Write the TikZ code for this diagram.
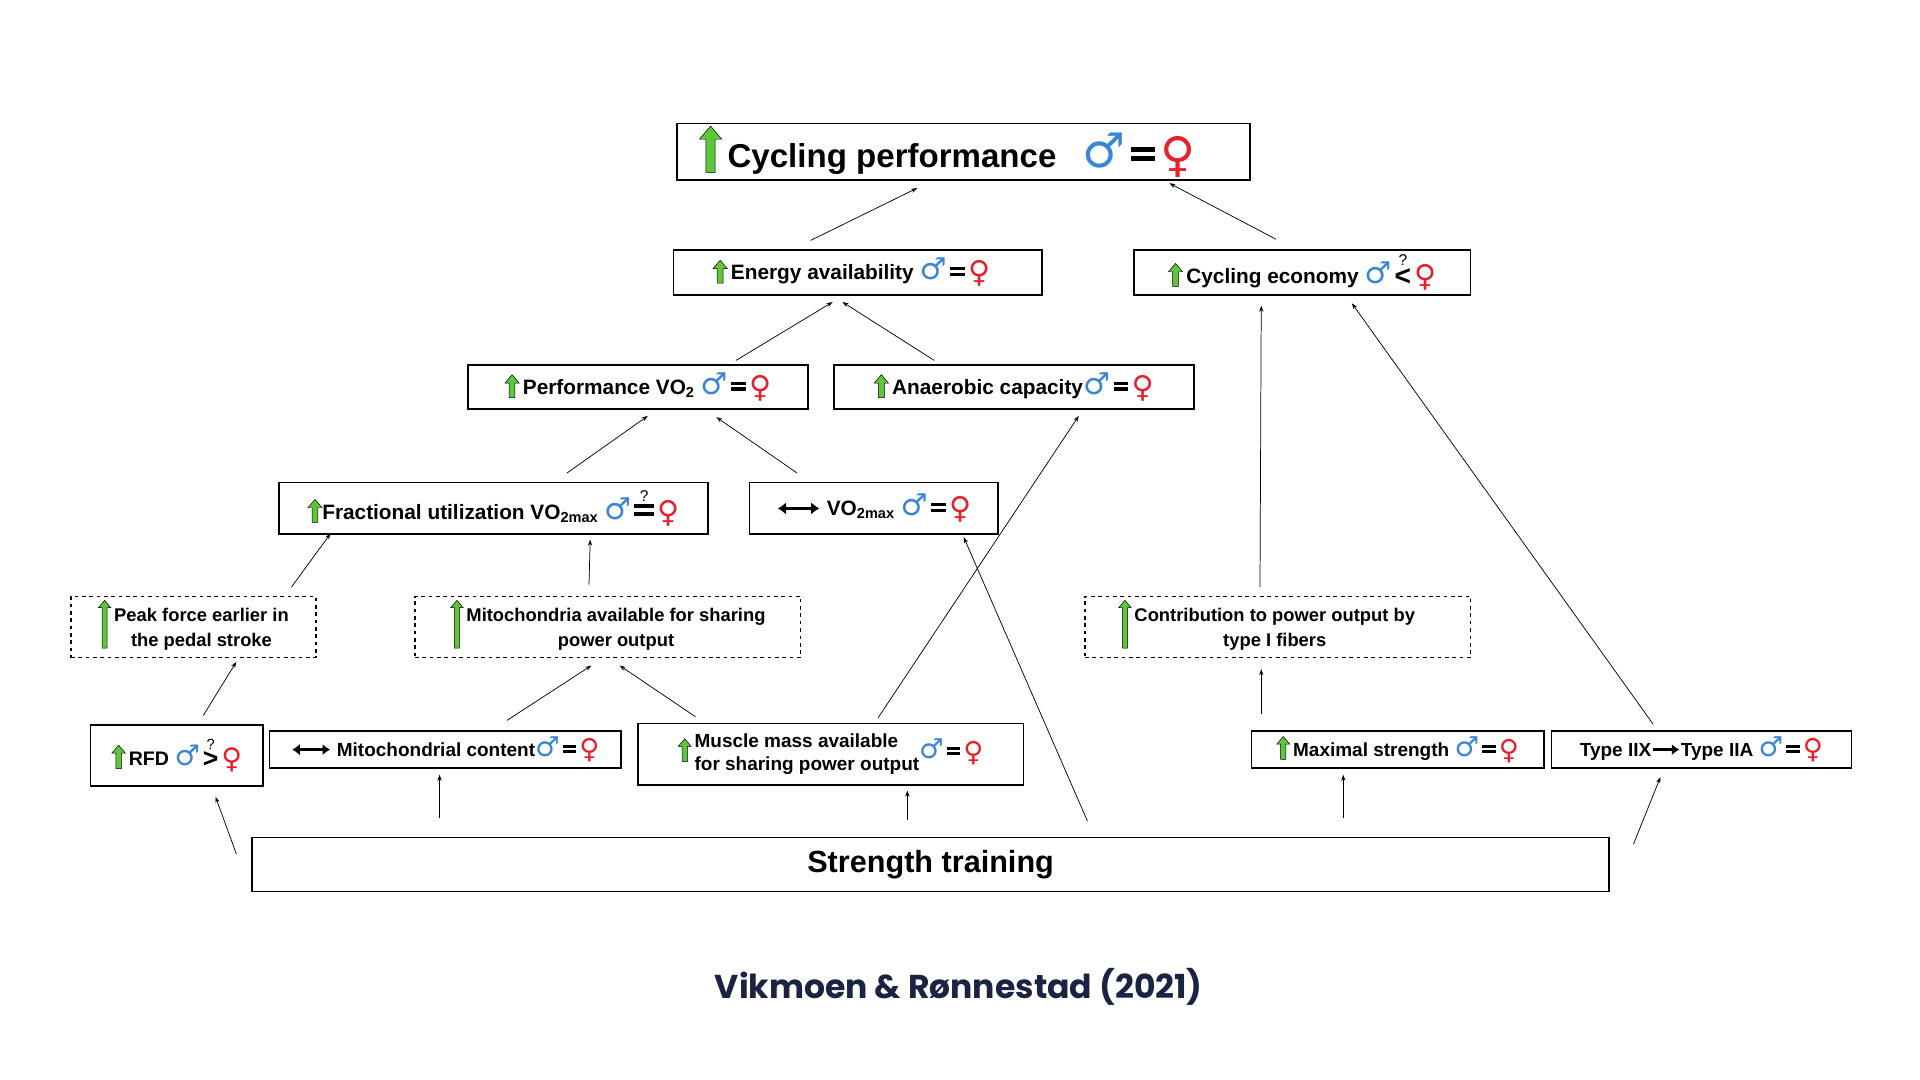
\documentclass[tikz,border=0pt]{standalone}
\usepackage{amsmath}
\usepackage{graphicx}
\usepackage{fontspec}
\setmainfont{Liberation Sans}
\newfontfamily\symf{DejaVu Sans}
\newfontfamily\titlef{Poppins}
\usetikzlibrary{arrows.meta,calc}
\definecolor{mblue}{HTML}{3A86D6}
\definecolor{fred}{HTML}{E8202A}
\definecolor{upgreen}{HTML}{5DC63A}
\definecolor{navy}{HTML}{1B2342}
% little glyphs used inside the boxes
\newcommand\up[1]{\tikz[baseline=0.15em,x=1em,y=1em]\filldraw[fill=upgreen,draw=black,line width=0.4pt]
  (-0.14,0) -- (0.14,0) -- (0.14,#1-0.4) -- (0.34,#1-0.4) -- (0,#1) -- (-0.34,#1-0.4) -- (-0.14,#1-0.4) -- cycle;}
\newcommand\both{\tikz[baseline=0pt,x=1em,y=1em]\draw[line width=0.16em,{Latex[length=0.4em,width=0.6em]}-{Latex[length=0.4em,width=0.6em]}] (0,0.35) -- (2,0.35);}
\newcommand\into{\tikz[baseline=0pt,x=1em,y=1em]\draw[line width=0.16em,-{Latex[length=0.4em,width=0.6em]}] (0,0.35) -- (1.4,0.35);}
\newcommand\he{{\symf\color{mblue}\scalebox{1.45}{♂}}}
\newcommand\she{{\symf\color{fred}\raisebox{-0.25ex}{\scalebox{1.45}{♀}}}}
\newcommand\eqbar{\tikz[baseline=0pt,x=1em,y=1em]{\fill (0,0.18) rectangle (0.7,0.34); \fill (0,0.46) rectangle (0.7,0.62);}}
\newcommand\sexrel[1]{\he\,#1\,\she}
\newcommand\qrel[1]{\he\hspace{0.15em}\raisebox{-0.2ex}{\shortstack{\scalebox{0.75}{\normalfont ?}\\[-0.1ex]\scalebox{1.35}{#1}}}\hspace{0.15em}\she}
\begin{document}
\begin{tikzpicture}[x=1pt,y=-1pt,
    box/.style={draw=black,line width=1.3pt,fill=white,inner sep=0pt,align=center,
      font=\fontsize{17}{19}\selectfont\bfseries},
    soft/.style={box,dashed,line width=1pt,font=\fontsize{15}{20}\selectfont\bfseries},
    conn/.style={draw=black,line width=0.6pt,-{Stealth[length=5pt,width=3.5pt]}},
  ]
  \useasboundingbox[fill=white] (0,0) rectangle (1568,882);
  % upper levels
  \node[box,minimum width=468,minimum height=46,font=\fontsize{27}{30}\selectfont\bfseries] (perf) at (787,124)
    {\up{1.4}\,Cycling performance\hspace{0.8em}\sexrel{\eqbar}\hspace{1em}};
  \node[box,minimum width=301,minimum height=37] (energy) at (700.5,222.5) {\up{1.1}\,Energy availability \sexrel{\eqbar}\hspace{0.6em}};
  \node[box,minimum width=275,minimum height=37] (economy) at (1063.5,222.5) {\up{1.1}\,Cycling economy \qrel{<}};
  \node[box,minimum width=278,minimum height=36] (perfvo) at (521,316) {\up{1.1}\,Performance VO\textsubscript{2} \sexrel{\eqbar}};
  \node[box,minimum width=294,minimum height=36] (anaer) at (828,316) {\up{1.1}\,Anaerobic capacity\sexrel{\eqbar}};
  \node[box,minimum width=350,minimum height=42] (frac) at (403,415) {\up{1.1}Fractional utilization VO\textsubscript{2max} \qrel{\eqbar}};
  \node[box,minimum width=203,minimum height=42] (vomax) at (713.5,415) {\both\ VO\textsubscript{2max} \sexrel{\eqbar}};
  % dashed mechanisms
  \node[soft,minimum width=200,minimum height=50] (peak) at (158,512)
    {\raisebox{-1.2ex}{\up{2.6}}\,\begin{tabular}{@{}c@{}}Peak force earlier in\\the pedal stroke\end{tabular}};
  \node[soft,minimum width=315,minimum height=50] (mito) at (496.5,512)
    {\raisebox{-1.2ex}{\up{2.6}}\,\begin{tabular}{@{}c@{}}Mitochondria available for sharing\\power output\end{tabular}};
  \node[soft,minimum width=315,minimum height=50] (contrib) at (1043.5,512)
    {\raisebox{-1.2ex}{\up{2.6}}\,\begin{tabular}{@{}c@{}}Contribution to power output by\\type I fibers\end{tabular}\hspace{1.2em}};
  % bottom row
  \node[box,minimum width=141,minimum height=50,font=\fontsize{16}{19}\selectfont\bfseries] (rfd) at (144.5,617) {\up{1.2}\,RFD \qrel{>}};
  \node[box,minimum width=287,minimum height=30,font=\fontsize{15.5}{19}\selectfont\bfseries] (mitocont) at (363.5,612) {\both\ Mitochondrial content\sexrel{\eqbar}};
  \node[box,minimum width=315,minimum height=50,font=\fontsize{15.5}{19}\selectfont\bfseries] (muscle) at (678.5,616)
    {\up{1.2}\,\begin{tabular}{@{}l@{}}Muscle mass available\\for sharing power output\end{tabular}\sexrel{\eqbar}};
  \node[box,minimum width=239,minimum height=30,font=\fontsize{15.5}{19}\selectfont\bfseries] (maxstr) at (1141.5,612) {\up{1.2}\,Maximal strength \sexrel{\eqbar}};
  \node[box,minimum width=245,minimum height=30,font=\fontsize{15.5}{19}\selectfont\bfseries] (fiber) at (1389.5,612) {Type IIX\into Type IIA \sexrel{\eqbar}};
  \node[box,minimum width=1108,minimum height=44,font=\fontsize{25}{28}\selectfont\bfseries] (train) at (760,706) {Strength training};
  \node[font=\titlef\fontsize{27}{32}\selectfont\bfseries,text=navy] (source) at (783,806) {Vikmoen \& Rønnestad (2021)};
  % connectors
  \draw[conn] ([shift={(-38.5,-7)}]energy.north) -- ([shift={(-38,6)}]perf.south);
  \draw[conn] ([shift={(-21.5,-8)}]economy.north) -- ([shift={(168,2)}]perf.south);
  \draw[conn] ([shift={(80,-3)}]perfvo.north) -- ([shift={(-20.5,5)}]energy.south);
  \draw[conn] ([shift={(-65,-3)}]anaer.north) -- ([shift={(-12.5,5)}]energy.south);
  \draw[conn] ([shift={(60,-7)}]frac.north) -- ([shift={(8,5)}]perfvo.south);
  \draw[conn] ([shift={(-62.5,-7)}]vomax.north) -- ([shift={(64,6)}]perfvo.south);
  \draw[conn] ([shift={(80,-7)}]peak.north) -- ([shift={(-133,-1)}]frac.south);
  \draw[conn] ([shift={(-15.5,-9)}]mito.north) -- ([shift={(79,4)}]frac.south);
  \draw[conn] ([shift={(38.5,-4)}]muscle.north) -- ([shift={(53,5)}]anaer.south);
  \draw[conn] ([shift={(128,-13)}]train.north) -- ([shift={(73.5,2)}]vomax.south);
  \draw[conn] ([shift={(-14.5,-7)}]contrib.north) -- ([shift={(-33.5,8)}]economy.south);
  \draw[conn] ([shift={(-39.5,-5)}]fiber.north) -- ([shift={(40.5,6)}]economy.south);
  \draw[conn] ([shift={(21.5,-7)}]rfd.north) -- ([shift={(35,3)}]peak.south);
  \draw[conn] ([shift={(50.5,-8)}]mitocont.north) -- ([shift={(-13.5,6)}]mito.south);
  \draw[conn] ([shift={(-110.5,-5)}]muscle.north) -- ([shift={(9.5,6)}]mito.south);
  \draw[conn] ([shift={(-111.5,-13)}]maxstr.north) -- ([shift={(-13.5,9)}]contrib.south);
  \draw[conn] ([shift={(-567,14)}]train.north) -- ([shift={(31.5,8)}]rfd.south);
  \draw[conn] ([shift={(-401,-15)}]train.north) -- ([shift={(-4.5,5)}]mitocont.south);
  \draw[conn] ([shift={(-19,-14)}]train.north) -- ([shift={(62.5,4)}]muscle.south);
  \draw[conn] ([shift={(337,-15)}]train.north) -- ([shift={(-44.5,5)}]maxstr.south);
  \draw[conn] ([shift={(574,6)}]train.north) -- ([shift={(-33.5,7)}]fiber.south);
\end{tikzpicture}
\end{document}
